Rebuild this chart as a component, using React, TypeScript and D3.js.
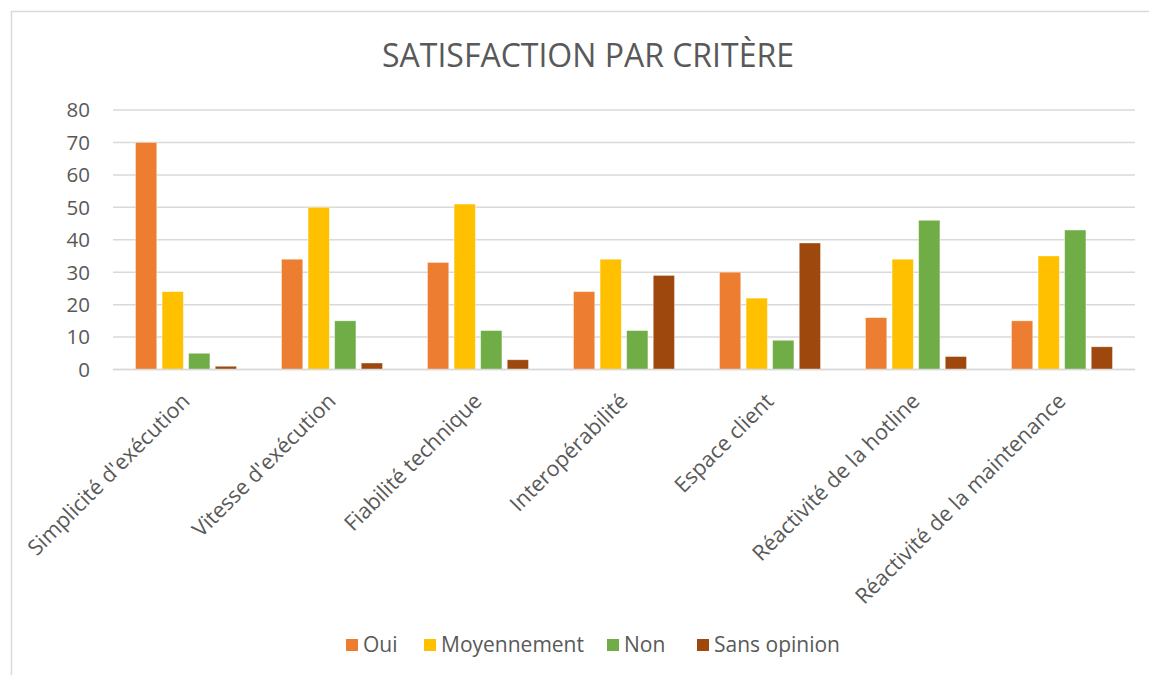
import React from "react";
import * as d3 from "d3";

const categories = [
  "Simplicité d'exécution",
  "Vitesse d'exécution",
  "Fiabilité technique",
  "Interopérabilité",
  "Espace client",
  "Réactivité de la hotline",
  "Réactivité de la maintenance",
];
const seriesNames = ["Oui", "Moyennement", "Non", "Sans opinion"];
const oui = [70, 34, 33, 24, 30, 16, 15];
const moyennement = [24, 50, 51, 34, 22, 34, 35];
const non = [5, 15, 12, 12, 9, 46, 43];
const sansOpinion = [1, 2, 3, 29, 39, 4, 7];
const yTicks = [0, 10, 20, 30, 40, 50, 60, 70, 80];
const colors = ["#ED7D31", "#FFC000", "#70AD47", "#9E480E"];

const W = 1149;
const H = 675;
const FONT = "'Open Sans', sans-serif";
const TXT = "#595959";

export default function App() {
  const seriesValues = [oui, moyennement, non, sansOpinion];
  const left = 113;
  const right = 1135;
  const top = 110;
  const bottom = 369.5;

  const x0 = d3.scaleBand<string>().domain(categories).range([left, right]).paddingInner(0).paddingOuter(0);
  const groupW = 101;
  const x1 = d3
    .scaleBand<string>()
    .domain(seriesNames)
    .range([0, groupW])
    .paddingInner(0.2)
    .paddingOuter(0);
  const y = d3.scaleLinear().domain([0, 80]).range([bottom, top]);

  const legendX = [346, 424, 607, 697];

  return (
    <svg
      width={W}
      height={H}
      style={{ position: "absolute", left: 0, top: 0, display: "block", background: "#fff" }}
    >
      <rect x={11.5} y={11.5} width={1200} height={800} fill="#fff" stroke="#d9d9d9" strokeWidth={1.5} />
      <text x={588} y={67} textAnchor="middle" fontFamily={FONT} fontSize={32} fill={TXT}>
        SATISFACTION PAR CRITÈRE
      </text>
      {yTicks.map((t) => (
        <g key={t}>
          <line x1={left} x2={right} y1={y(t)} y2={y(t)} stroke="#d9d9d9" strokeWidth={1.5} />
          <text
            x={90}
            y={y(t)}
            dy="0.36em"
            textAnchor="end"
            fontFamily={FONT}
            fontSize={20.5}
            fill={TXT}
          >
            {t}
          </text>
        </g>
      ))}
      {categories.map((c, ci) => {
        const gx = (x0(c) as number) + (x0.bandwidth() - groupW) / 2;
        return (
          <g key={c}>
            {seriesNames.map((s, si) => {
              const v = seriesValues[si][ci];
              return (
                <rect
                  key={s}
                  x={gx + (x1(s) as number)}
                  y={y(v)}
                  width={x1.bandwidth()}
                  height={bottom - y(v)}
                  fill={colors[si]}
                  stroke="#fff"
                  strokeOpacity={0.5}
                  strokeWidth={0.75}
                />
              );
            })}
          </g>
        );
      })}
      <line x1={left} x2={right} y1={bottom} y2={bottom} stroke="#d9d9d9" strokeWidth={1.5} />
      {categories.map((c) => {
        const cx = (x0(c) as number) + x0.bandwidth() / 2;
        return (
          <text
            key={c}
            transform={`translate(${cx + 5},${bottom + 33}) rotate(-45)`}
            textAnchor="end"
            fontFamily={FONT}
            fontSize={21.5}
            fill={TXT}
          >
            {c}
          </text>
        );
      })}
      {seriesNames.map((name, i) => (
        <g key={name}>
          <rect x={legendX[i]} y={639} width={12} height={12} fill={colors[i]} />
          <text x={legendX[i] + 17} y={652} fontFamily={FONT} fontSize={21} fill={TXT}>
            {name}
          </text>
        </g>
      ))}
    </svg>
  );
}
